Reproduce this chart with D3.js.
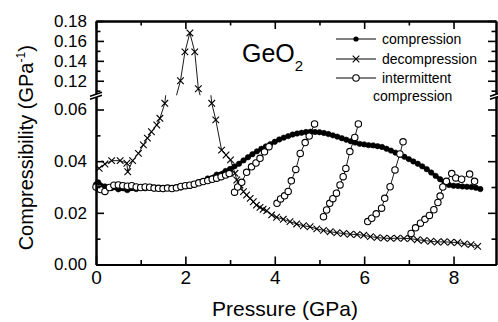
<!DOCTYPE html>
<html>
<head>
<meta charset="utf-8">
<script src="https://cdn.jsdelivr.net/npm/d3@7"></script>
<style>
  body { margin: 0; background: #fff; }
  svg { font-family: "Liberation Sans", Arial, sans-serif; }
</style>
</head>
<body>
<svg id="chart" width="498" height="322"></svg>
<script>
// pressure (GPa), compressibility (GPa^-1)
const compression = [
  [0.00, .0310], [0.05, .0318], [0.20, .0302], [0.35, .0296], [0.50, .0291], [0.70, .0288],
  [0.90, .0292], [1.10, .0295], [1.30, .0294], [1.50, .0292], [1.70, .0294], [1.90, .0298],
  [2.10, .0304], [2.30, .0318], [2.50, .0333], [2.70, .0348], [2.90, .0362],
  [3.00, .0370], [3.10, .0380], [3.20, .0390], [3.30, .0403], [3.40, .0415], [3.50, .0427],
  [3.60, .0438], [3.70, .0448], [3.80, .0457], [3.90, .0466], [4.00, .0475], [4.10, .0484],
  [4.20, .0491], [4.30, .0497], [4.40, .0503], [4.50, .0507], [4.60, .0510], [4.70, .0513],
  [4.80, .0514], [4.90, .0513], [5.00, .0512], [5.10, .0509], [5.20, .0505], [5.30, .0500],
  [5.40, .0495], [5.50, .0489], [5.60, .0483], [5.70, .0477], [5.80, .0472], [5.90, .0467],
  [6.00, .0465], [6.10, .0462], [6.20, .0461], [6.30, .0458], [6.40, .0455], [6.50, .0448],
  [6.60, .0441], [6.70, .0433], [6.80, .0425], [6.90, .0417], [7.00, .0408], [7.10, .0399],
  [7.20, .0390], [7.30, .0380], [7.40, .0369], [7.50, .0356], [7.60, .0343], [7.70, .0330],
  [7.80, .0316], [7.90, .0308], [8.00, .0305], [8.10, .0304], [8.20, .0302], [8.30, .0301],
  [8.40, .0300], [8.50, .0297], [8.60, .0292]
];

const decompression = [
  [0.07, .0372], [0.20, .0389], [0.35, .0402], [0.54, .0402], [0.69, .0392], [0.71, .0359],
  [0.82, .0402], [0.95, .0430], [1.06, .0463], [1.15, .0489], [1.24, .0514], [1.36, .0540],
  [1.43, .0566], [1.54, .0624], [1.89, .1200], [1.99, .1490], [2.10, .1680], [2.21, .1490],
  [2.29, .1120], [2.59, .0624], [2.68, .0560], [2.81, .0443], [2.91, .0424], [3.01, .0405],
  [3.11, .0353], [3.15, .0327], [3.22, .0308], [3.30, .0282], [3.37, .0269], [3.45, .0256],
  [3.52, .0243], [3.59, .0230], [3.67, .0221], [3.74, .0214], [3.82, .0208], [3.93, .0192],
  [4.04, .0183], [4.19, .0175], [4.34, .0166], [4.49, .0157], [4.64, .0150], [4.79, .0146],
  [4.94, .0138], [5.09, .0132], [5.24, .0127], [5.39, .0123], [5.54, .0120], [5.69, .0117],
  [5.84, .0116], [5.99, .0113], [6.14, .0108], [6.29, .0104], [6.44, .0102], [6.59, .0101],
  [6.74, .0102], [6.89, .0101], [7.04, .0100], [7.19, .0096], [7.34, .0093], [7.49, .0090],
  [7.64, .0087], [7.79, .0088], [7.94, .0086], [8.09, .0085], [8.24, .0080], [8.39, .0077],
  [8.54, .0070]
];

// intermittent compression, one array per run
const intermittent1 = [
  [0.00, .0300], [0.10, .0290], [0.20, .0283], [0.30, .0298], [0.40, .0307], [0.50, .0308],
  [0.60, .0305], [0.70, .0303], [0.80, .0305], [0.90, .0300], [1.00, .0298], [1.10, .0300],
  [1.20, .0299], [1.30, .0296], [1.40, .0295], [1.50, .0294], [1.60, .0296], [1.70, .0294],
  [1.80, .0297], [1.90, .0302], [2.00, .0305], [2.10, .0307], [2.20, .0311], [2.30, .0316],
  [2.40, .0321], [2.50, .0325], [2.60, .0330], [2.70, .0334], [2.80, .0340], [2.90, .0346],
  [2.98, .0352]
];
const intermittent2 = [
  [3.10, .0280], [3.17, .0300], [3.26, .0318], [3.37, .0357], [3.48, .0378], [3.58, .0393],
  [3.67, .0411], [3.77, .0436], [3.87, .0456]
];
const intermittent3 = [
  [4.05, .0237], [4.13, .0254], [4.22, .0266], [4.30, .0283], [4.37, .0324], [4.47, .0368],
  [4.57, .0430], [4.68, .0472], [4.77, .0497], [4.89, .0544]
];
const intermittent4 = [
  [5.09, .0185], [5.16, .0211], [5.23, .0237], [5.30, .0255], [5.38, .0276], [5.46, .0308],
  [5.53, .0340], [5.59, .0372], [5.68, .0437], [5.79, .0492], [5.87, .0544]
];
const intermittent5 = [
  [6.08, .0166], [6.17, .0179], [6.27, .0196], [6.39, .0218], [6.46, .0256], [6.58, .0301],
  [6.69, .0366], [6.80, .0428], [6.87, .0475]
];
const intermittent6 = [
  [7.05, .0120], [7.15, .0142], [7.26, .0160], [7.36, .0175], [7.46, .0190], [7.56, .0212],
  [7.65, .0240], [7.70, .0265], [7.76, .0300], [7.84, .0322], [7.96, .0352], [8.05, .0335],
  [8.18, .0330], [8.36, .0350], [8.47, .0322]
];
const intermittentRuns = [intermittent1, intermittent2, intermittent3, intermittent4, intermittent5, intermittent6];

const xTicks = [0, 2, 4, 6, 8];
const xMinor = [1, 3, 5, 7];
const yLowTicks = [0, 0.02, 0.04, 0.06];
const yLowMinor = [0.01, 0.03, 0.05];
const yHighTicks = [0.12, 0.14, 0.16, 0.18];
const yHighMinor = [0.11, 0.13, 0.15, 0.17];
const legendLabels = ['compression', 'decompression', 'intermittent'];

const svg = d3.select('#chart');
const pLeft = 96, pRight = 496, pTop = 21, pBottom = 264.5, pBreak = 95.3;
const lowMax = 0.0655, highMin = 0.1054;

const x = d3.scaleLinear().domain([0, 8.95]).range([pLeft, pRight]);
const yLow = d3.scaleLinear().domain([0, lowMax]).range([pBottom, pBreak]);
const yHigh = d3.scaleLinear().domain([highMin, 0.18]).range([pBreak, pTop]);

const defs = svg.append('defs');
defs.append('clipPath').attr('id', 'clipLow').append('rect')
  .attr('x', pLeft).attr('y', pBreak).attr('width', pRight - pLeft).attr('height', pBottom - pBreak);
defs.append('clipPath').attr('id', 'clipHigh').append('rect')
  .attr('x', pLeft).attr('y', pTop).attr('width', pRight - pLeft).attr('height', pBreak - pTop);

const panels = [
  { y: yLow, clip: 'url(#clipLow)', keep: v => v <= lowMax },
  { y: yHigh, clip: 'url(#clipHigh)', keep: v => v >= highMin }
];

function drawLine(data, width) {
  panels.forEach(p => {
    svg.append('path')
      .datum(data)
      .attr('clip-path', p.clip)
      .attr('fill', 'none')
      .attr('stroke', '#000')
      .attr('stroke-width', width)
      .attr('d', d3.line().x(d => x(d[0])).y(d => p.y(d[1])));
  });
}

const xSize = 3.3;
function drawCrosses(data) {
  panels.forEach(p => {
    svg.append('g').selectAll('path')
      .data(data.filter(d => p.keep(d[1])))
      .join('path')
      .attr('fill', 'none')
      .attr('stroke', '#000')
      .attr('stroke-width', 1.1)
      .attr('d', d => {
        const cx = x(d[0]), cy = p.y(d[1]);
        return `M${cx - xSize},${cy - xSize}L${cx + xSize},${cy + xSize}M${cx - xSize},${cy + xSize}L${cx + xSize},${cy - xSize}`;
      });
  });
}

function drawCircles(data, r, filled) {
  svg.append('g').selectAll('circle')
    .data(data)
    .join('circle')
    .attr('cx', d => x(d[0]))
    .attr('cy', d => yLow(d[1]))
    .attr('r', r)
    .attr('fill', filled ? '#000' : '#fff')
    .attr('stroke', '#000')
    .attr('stroke-width', filled ? 0.6 : 1.1);
}

// decompression
drawLine(decompression, 0.9);
drawCrosses(decompression);

// compression: dots sit so close that they read as a thick line
drawLine(compression, 3);
drawCircles(compression, 2.7, true);

// intermittent compression
intermittentRuns.forEach(run => drawLine(run, 0.9));
intermittentRuns.forEach(run => drawCircles(run, 3.2, false));

// axes
function styleAxis(g) {
  g.select('.domain').attr('stroke-width', 2);
  g.selectAll('.tick line').attr('stroke-width', 1.6);
  g.selectAll('text').attr('fill', '#000');
}

const major = 8, minor = 4.5;

svg.append('g').attr('transform', `translate(0,${pBottom})`)
  .call(d3.axisBottom(x).tickValues(xTicks).tickSize(-major).tickSizeOuter(0).tickPadding(6)
    .tickFormat(d3.format('d')))
  .call(styleAxis)
  .call(g => g.attr('font-size', 19).attr('font-family', null));
svg.append('g').attr('transform', `translate(0,${pBottom})`)
  .call(d3.axisBottom(x).tickValues(xMinor).tickSize(-minor).tickSizeOuter(0).tickFormat(''))
  .call(styleAxis);

svg.append('g').attr('transform', `translate(0,${pTop})`)
  .call(d3.axisTop(x).tickValues(xTicks).tickSize(-major).tickSizeOuter(0).tickFormat(''))
  .call(styleAxis);
svg.append('g').attr('transform', `translate(0,${pTop})`)
  .call(d3.axisTop(x).tickValues(xMinor).tickSize(-minor).tickSizeOuter(0).tickFormat(''))
  .call(styleAxis);

const yFmt = d3.format('.2f');
[[yLow, yLowTicks, yLowMinor], [yHigh, yHighTicks, yHighMinor]].forEach(([ys, ticks, minors]) => {
  svg.append('g').attr('transform', `translate(${pLeft},0)`)
    .call(d3.axisLeft(ys).tickValues(ticks).tickSize(-major).tickSizeOuter(0).tickPadding(9)
      .tickFormat(yFmt))
    .call(styleAxis)
    .call(g => g.attr('font-size', 17).attr('font-family', null));
  svg.append('g').attr('transform', `translate(${pLeft},0)`)
    .call(d3.axisLeft(ys).tickValues(minors).tickSize(-minor).tickSizeOuter(0).tickFormat(''))
    .call(styleAxis);
  svg.append('g').attr('transform', `translate(${pRight},0)`)
    .call(d3.axisRight(ys).tickValues(ticks).tickSize(-major).tickSizeOuter(0).tickFormat(''))
    .call(styleAxis);
  svg.append('g').attr('transform', `translate(${pRight},0)`)
    .call(d3.axisRight(ys).tickValues(minors).tickSize(-minor).tickSizeOuter(0).tickFormat(''))
    .call(styleAxis);
});

// axis break marks
[pLeft, pRight].forEach(ax => {
  const yb = yLow(lowMax);
  svg.append('path')
    .attr('d', `M${ax - 6},${yb + 1}L${ax + 6},${yb - 3}L${ax + 6},${yb}L${ax - 6},${yb + 4}Z`)
    .attr('fill', '#fff');
  svg.append('path')
    .attr('d', `M${ax - 6},${yb + 1}L${ax + 6},${yb - 3}M${ax - 6},${yb + 4}L${ax + 6},${yb}`)
    .attr('stroke', '#000').attr('stroke-width', 1.6).attr('fill', 'none');
});

// axis titles
svg.append('text')
  .attr('x', (pLeft + pRight) / 2 - 11).attr('y', 316)
  .attr('text-anchor', 'middle').attr('font-size', 21)
  .text('Pressure (GPa)');

const yTitle = svg.append('text')
  .attr('transform', `translate(33,${(pTop + pBottom) / 2 + 5}) rotate(-90)`)
  .attr('text-anchor', 'middle').attr('font-size', 20);
yTitle.append('tspan').text('Compressibility (GPa');
yTitle.append('tspan').attr('font-size', 12).attr('dy', -8).text('-1');
yTitle.append('tspan').attr('dy', 8).text(')');

// GeO2 label
const geo = svg.append('text').attr('x', 242).attr('y', 62).attr('font-size', 25);
geo.append('tspan').text('GeO');
geo.append('tspan').attr('font-size', 15).attr('dy', 9).text('2');

// legend
const legend = svg.append('g').attr('font-size', 14);
const rowY = [39, 59, 78];
legendLabels.forEach((label, i) => {
  const g = legend.append('g').attr('transform', `translate(0,${rowY[i]})`);
  g.append('line').attr('x1', 336).attr('x2', 376).attr('stroke', '#000').attr('stroke-width', 1);
  if (i === 0) {
    g.append('circle').attr('cx', 356).attr('r', 2.6).attr('fill', '#000');
  } else if (i === 1) {
    g.append('path').attr('d', 'M352.7,-3.3L359.3,3.3M352.7,3.3L359.3,-3.3')
      .attr('stroke', '#000').attr('stroke-width', 1.1);
  } else {
    g.append('circle').attr('cx', 356).attr('r', 3.2).attr('fill', '#fff')
      .attr('stroke', '#000').attr('stroke-width', 1.1);
  }
  g.append('text').attr('x', 382).attr('y', 5).text(label);
});
legend.append('text').attr('x', 373).attr('y', 101).text('compression');
</script>
</body>
</html>
